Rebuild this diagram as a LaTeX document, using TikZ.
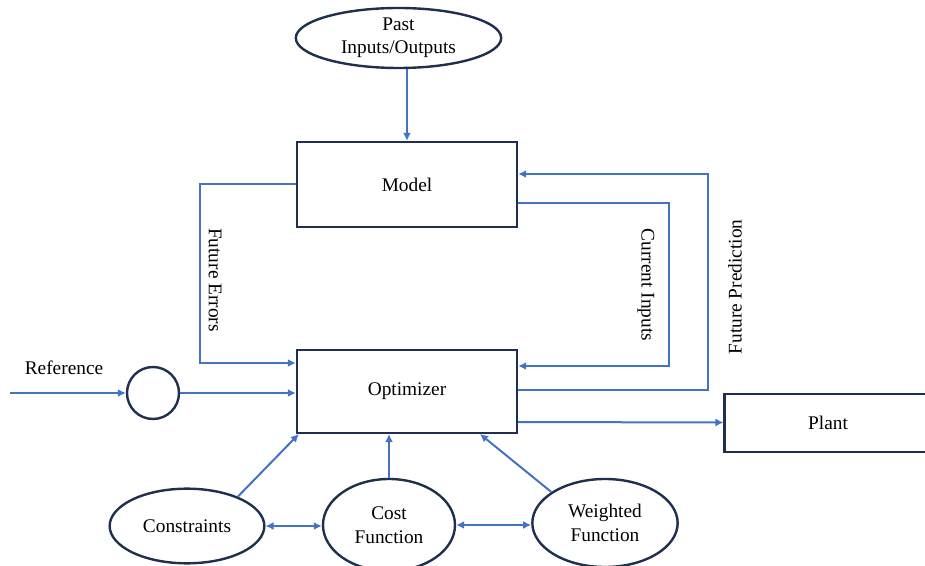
\documentclass[tikz,border=0pt]{standalone}
\usepackage{fontspec}
\setmainfont{Liberation Serif}
\usepackage{xcolor}
\usepackage{tikz}
\usetikzlibrary{arrows.meta,positioning,shapes.geometric,calc}
\definecolor{Navy}{HTML}{1F2F4F}
\definecolor{Wire}{HTML}{4472C4}

\begin{document}
\begin{tikzpicture}[
  x=0.75pt, y=-0.75pt,
  font=\fontsize{14.5}{15}\selectfont,
  box/.style={draw=Navy, line width=1.8pt, fill=white, minimum width=165pt, align=center},
  oval/.style={draw=Navy, line width=1.8pt, ellipse, inner sep=0pt, align=center},
  label/.style={inner sep=1pt},
  arrow/.style={-{Latex[length=6pt,width=6pt]}, line width=1.5pt, draw=Wire},
  both/.style={{Latex[length=6pt,width=6pt]}-{Latex[length=6pt,width=6pt]}, line width=1.5pt, draw=Wire}
]
\useasboundingbox (0,0) rectangle (925,566);
\node[oval, minimum width=154pt, minimum height=45pt] (past) at (398.5,38) {Past\\[2pt]Inputs/Outputs};
\node[box, minimum height=63.75pt] (model) at (407,184.5) {Model};
\node[box, minimum height=62pt] (optimizer) at (407,391.5) {Optimizer};
\node[box, minimum width=155pt, minimum height=43.5pt, text width=140pt] (plant) at (828,423) {Plant};
\node[draw=Navy, line width=1.8pt, circle, minimum size=39pt, inner sep=0pt] (sum) at (153,393) {};
\coordinate (refin) at (10,393);
\node[label] (reflabel) at (64,368) {Reference};
\node[oval, minimum width=116pt, minimum height=56pt] (constraints) at (187,526) {Constraints};
\node[oval, minimum width=99pt, minimum height=69pt] (cost) at (389,525) {Cost\\[3pt]Function};
\node[oval, minimum width=109pt, minimum height=66pt] (weighted) at (605,523) {Weighted\\[3pt]Function};
\node[label, rotate=-90] (errlabel) at (215,280) {Future Errors};
\node[label, rotate=-90] (curlabel) at (646,285) {Current Inputs};
\node[label, rotate=90] (predlabel) at (735,287) {Future Prediction};
% connectors
\draw[arrow] (past.south -| model.north)--(model.north);
\draw[arrow] (model.west)--++(-96,0)|-($(optimizer.west)+(0,-28.5)$);
\draw[arrow] ($(model.east)+(0,18.5)$)--++(151,0)|-($(optimizer.east)+(0,-25.5)$);
\draw[arrow] ($(optimizer.east)+(0,-1.5)$)--++(190,0)|-($(model.east)+(0,-10.5)$);
\draw[arrow] ($(optimizer.east)+(0,30.5)$)--($(plant.west)+(0,-0.5)$);
\draw[arrow] (refin)--(sum.west);
\draw[arrow] (sum.east)--(sum.east -| optimizer.west);
\draw[arrow] (constraints.30)--($(optimizer.south west)+(3,0)$);
\draw[arrow] (cost.north)--(cost.north |- optimizer.south);
\draw[arrow] (weighted.150)--($(optimizer.south)+(73,0)$);
\draw[both] (constraints.east)--(constraints.east -| cost.west);
\draw[both] (cost.east)--(cost.east -| weighted.west);
\end{tikzpicture}
\end{document}
